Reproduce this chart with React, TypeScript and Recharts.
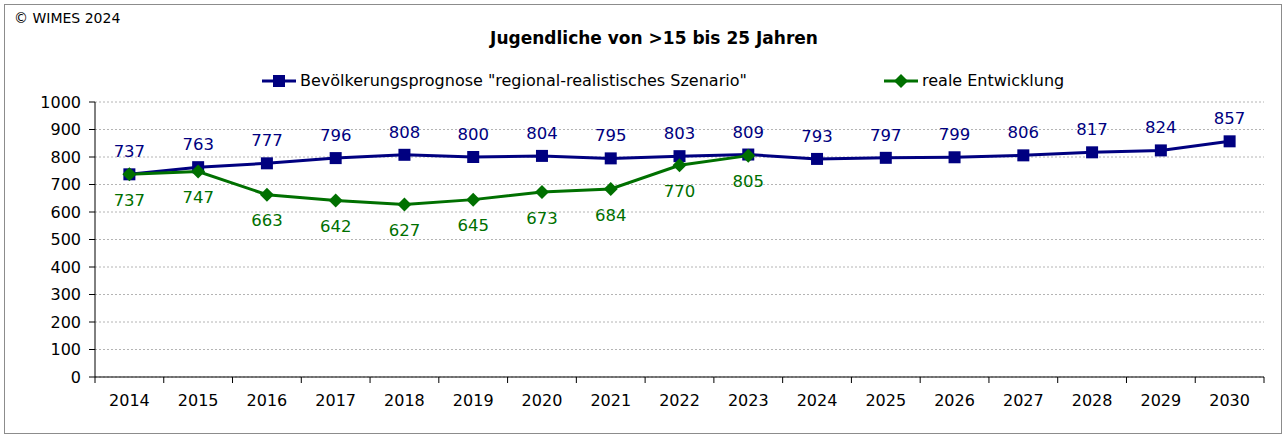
import { LineChart, Line, XAxis, YAxis, CartesianGrid, LabelList } from "recharts";

const years = ["2014", "2015", "2016", "2017", "2018", "2019", "2020", "2021", "2022", "2023", "2024", "2025", "2026", "2027", "2028", "2029", "2030"];
const prognose = [737, 763, 777, 796, 808, 800, 804, 795, 803, 809, 793, 797, 799, 806, 817, 824, 857];
const real = [737, 747, 663, 642, 627, 645, 673, 684, 770, 805];
const yTicks = [0, 100, 200, 300, 400, 500, 600, 700, 800, 900, 1000];

const BLUE = "#000080";
const GREEN = "#007000";
const FONT = "DejaVu Sans, Verdana, sans-serif";

const data = years.map((year, i) => ({
  year,
  prognose: prognose[i],
  real: i < real.length ? real[i] : null,
}));

const W = 1288;
const H = 439;
const PLOT_LEFT = 95;
const PLOT_RIGHT = 1264;
const BAND = (PLOT_RIGHT - PLOT_LEFT) / years.length;

const YearTick = ({ x, y, payload, index }: any) => (
  <g>
    <line x1={x - BAND / 2} x2={x - BAND / 2} y1={y - 8} y2={y - 2} stroke="#000" />
    {index === years.length - 1 && (
      <line x1={x + BAND / 2} x2={x + BAND / 2} y1={y - 8} y2={y - 2} stroke="#000" />
    )}
    <text x={x} y={y + 21} textAnchor="middle" fontSize={16} fontFamily={FONT} fill="#000">
      {payload.value}
    </text>
  </g>
);

const Square = ({ cx, cy }: any) =>
  cx == null || cy == null ? null : <rect x={cx - 6} y={cy - 6} width={12} height={12} fill={BLUE} />;

const Diamond = ({ cx, cy }: any) =>
  cx == null || cy == null ? null : (
    <path d={`M${cx},${cy - 7}L${cx + 7},${cy}L${cx},${cy + 7}L${cx - 7},${cy}Z`} fill={GREEN} />
  );

const LegendBox = () => (
  <div style={{ position: "absolute", left: 0, top: 71, width: W, height: 20, fontFamily: FONT, fontSize: 16 }}>
    <div style={{ position: "absolute", left: 262, top: 0, display: "flex", alignItems: "center" }}>
      <svg width={36} height={14}>
        <line x1={0} x2={34} y1={7} y2={7} stroke={BLUE} strokeWidth={3} />
        <rect x={11} y={1} width={12} height={12} fill={BLUE} />
      </svg>
      <span style={{ marginLeft: 2 }}>Bevölkerungsprognose "regional-realistisches Szenario"</span>
    </div>
    <div style={{ position: "absolute", left: 884, top: 0, display: "flex", alignItems: "center" }}>
      <svg width={36} height={14}>
        <line x1={0} x2={34} y1={7} y2={7} stroke={GREEN} strokeWidth={3} />
        <path d="M17,0L24,7L17,14L10,7Z" fill={GREEN} />
      </svg>
      <span style={{ marginLeft: 2 }}>reale Entwicklung</span>
    </div>
  </div>
);

export default function App() {
  return (
    <div style={{ position: "absolute", left: 0, top: 0, width: W, height: H, background: "#fff" }}>
      <div
        style={{
          position: "absolute",
          left: 4,
          top: 4,
          width: 1278,
          height: 430,
          border: "1px solid #8c8c8c",
          boxSizing: "border-box",
        }}
      />
      <div style={{ position: "absolute", left: 14, top: 10, fontFamily: FONT, fontSize: 14, color: "#000" }}>
        © WIMES 2024
      </div>
      <div
        style={{
          position: "absolute",
          left: 10,
          width: W,
          top: 28,
          textAlign: "center",
          fontFamily: FONT,
          fontSize: 17,
          fontWeight: "bold",
          color: "#000",
        }}
      >
        Jugendliche von &gt;15 bis 25 Jahren
      </div>
      <LegendBox />
      <div style={{ position: "absolute", left: 0, top: 0 }}>
        <LineChart width={W} height={H} data={data} margin={{ top: 102, right: W - PLOT_RIGHT, bottom: 22, left: 35 }}>
          <CartesianGrid vertical={false} stroke="#b4b4b4" strokeDasharray="2 2" />
          <XAxis
            dataKey="year"
            scale="band"
            height={40}
            tickLine={false}
            axisLine={{ stroke: "#000" }}
            tick={<YearTick />}
            interval={0}
          />
          <YAxis
            width={60}
            domain={[0, 1000]}
            ticks={yTicks}
            interval={0}
            axisLine={{ stroke: "#000" }}
            tickLine={{ stroke: "#000" }}
            tickSize={6}
            tick={{ fill: "#000", fontSize: 16, fontFamily: FONT, dx: -6 }}
          />
          <Line
            type="linear"
            dataKey="prognose"
            stroke={BLUE}
            strokeWidth={3}
            dot={<Square />}
            isAnimationActive={false}
          >
            <LabelList dataKey="prognose" position="top" offset={17} fill={BLUE} fontSize={16.5} fontFamily={FONT} />
          </Line>
          <Line
            type="linear"
            dataKey="real"
            stroke={GREEN}
            strokeWidth={3}
            dot={<Diamond />}
            connectNulls={false}
            isAnimationActive={false}
          >
            <LabelList dataKey="real" position="bottom" offset={20} fill={GREEN} fontSize={16.5} fontFamily={FONT} />
          </Line>
        </LineChart>
      </div>
    </div>
  );
}
